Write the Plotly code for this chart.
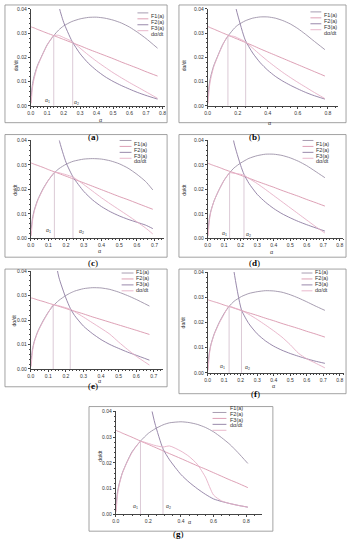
import plotly.graph_objects as go

# ---------------- data ----------------
N = None
# Panel (a)
ALPHA_A = [0.003, 0.01, 0.02, 0.04, 0.07, 0.1, 0.14, 0.17, 0.2, 0.25, 0.3, 0.35, 0.4, 0.45, 0.5, 0.55, 0.6, 0.65, 0.7, 0.77]
F1_A = [0.004, 0.0085, 0.012, 0.0165, 0.021, 0.0252, 0.0290, 0.0313, 0.0330, 0.0348, 0.0359, 0.0365, 0.0366, 0.0362, 0.0354, 0.0342, 0.0325, 0.0303, 0.0278, 0.0238]
F2_A = [0.0326, 0.0324, 0.0322, 0.0316, 0.0308, 0.0300, 0.0290, 0.0282, 0.0274, 0.0261, 0.0248, 0.0234, 0.0221, 0.0208, 0.0195, 0.0181, 0.0168, 0.0155, 0.0141, 0.0123]
F3_A = [N, N, N, N, N, N, 0.055, 0.0415, 0.0345, 0.0268, 0.0215, 0.0176, 0.0146, 0.0121, 0.0101, 0.0084, 0.0069, 0.0055, 0.0043, 0.0028]
DADT_A = [0.001, 0.007, 0.011, 0.016, 0.0208, 0.025, 0.0290, 0.0291, 0.0282, 0.0266, 0.0238, 0.0210, 0.0184, 0.0160, 0.0137, 0.0116, 0.0096, 0.0077, 0.0058, 0.0031]
# Panel (b)
ALPHA_B = [0.003, 0.01, 0.02, 0.04, 0.07, 0.1, 0.135, 0.18, 0.2, 0.25, 0.3, 0.35, 0.4, 0.45, 0.5, 0.55, 0.6, 0.65, 0.7, 0.78]
F1_B = [0.004, 0.0085, 0.012, 0.0165, 0.021, 0.0253, 0.0288, 0.0322, 0.0333, 0.0351, 0.0362, 0.0367, 0.0367, 0.0362, 0.0352, 0.0338, 0.0319, 0.0296, 0.0271, 0.0232]
F2_B = [0.0327, 0.0325, 0.0322, 0.0317, 0.0309, 0.0301, 0.0292, 0.0280, 0.0275, 0.0262, 0.0249, 0.0235, 0.0222, 0.0209, 0.0196, 0.0183, 0.0170, 0.0157, 0.0144, 0.0123]
F3_B = [N, N, N, N, N, N, 0.060, 0.0425, 0.0375, 0.0272, 0.0218, 0.0178, 0.0147, 0.0122, 0.0102, 0.0085, 0.0070, 0.0056, 0.0044, 0.0028]
DADT_B = [0.001, 0.007, 0.011, 0.016, 0.0208, 0.025, 0.0288, 0.0286, 0.0280, 0.0265, 0.0238, 0.0211, 0.0185, 0.0161, 0.0138, 0.0117, 0.0097, 0.0078, 0.0059, 0.0030]
# Panel (c)
ALPHA_C = [0.003, 0.01, 0.02, 0.04, 0.07, 0.1, 0.134, 0.16, 0.2, 0.24, 0.3, 0.35, 0.4, 0.45, 0.5, 0.55, 0.6, 0.65, 0.69]
F1_C = [0.004, 0.0082, 0.0115, 0.0158, 0.0203, 0.0238, 0.0268, 0.0285, 0.0303, 0.0315, 0.0324, 0.0326, 0.0324, 0.0317, 0.0305, 0.0287, 0.0262, 0.0232, 0.0198]
F2_C = [0.0308, 0.0306, 0.0303, 0.0298, 0.0290, 0.0281, 0.0272, 0.0265, 0.0254, 0.0243, 0.0227, 0.0213, 0.0199, 0.0185, 0.0171, 0.0158, 0.0144, 0.0130, 0.0119]
F3_C = [N, N, N, N, N, N, 0.052, 0.0405, 0.0310, 0.0250, 0.0192, 0.0157, 0.0130, 0.0109, 0.0092, 0.0078, 0.0066, 0.0054, 0.0040]
DADT_C = [0.001, 0.007, 0.011, 0.0155, 0.020, 0.0237, 0.0270, 0.0268, 0.0260, 0.0250, 0.0220, 0.0193, 0.0166, 0.0141, 0.0117, 0.0093, 0.0068, 0.0042, 0.0018]
# Panel (d)
ALPHA_D = [0.003, 0.01, 0.02, 0.04, 0.07, 0.1, 0.133, 0.16, 0.2, 0.22, 0.25, 0.3, 0.35, 0.4, 0.45, 0.5, 0.55, 0.6, 0.65, 0.71]
F1_D = [0.004, 0.008, 0.0113, 0.0155, 0.0200, 0.0238, 0.0268, 0.0288, 0.0308, 0.0316, 0.0327, 0.0338, 0.0344, 0.0344, 0.0339, 0.0329, 0.0315, 0.0297, 0.0275, 0.0248]
F2_D = [0.0307, 0.0305, 0.0302, 0.0297, 0.0290, 0.0282, 0.0274, 0.0268, 0.0258, 0.0253, 0.0246, 0.0233, 0.0221, 0.0209, 0.0196, 0.0184, 0.0172, 0.0159, 0.0147, 0.0132]
F3_D = [N, N, N, N, N, N, 0.050, 0.0390, 0.0298, 0.0262, 0.0225, 0.0180, 0.0148, 0.0122, 0.0101, 0.0084, 0.0069, 0.0056, 0.0044, 0.0030]
DADT_D = [0.001, 0.007, 0.011, 0.0155, 0.020, 0.0237, 0.0268, 0.0266, 0.0262, 0.0258, 0.0245, 0.0224, 0.0200, 0.0175, 0.0150, 0.0125, 0.0100, 0.0075, 0.0050, 0.0022]
# Panel (e)
ALPHA_E = [0.003, 0.01, 0.02, 0.04, 0.07, 0.1, 0.128, 0.16, 0.2, 0.225, 0.25, 0.3, 0.35, 0.4, 0.45, 0.5, 0.55, 0.6, 0.675]
F1_E = [0.004, 0.008, 0.0112, 0.0153, 0.0196, 0.0232, 0.0258, 0.0280, 0.0300, 0.0310, 0.0318, 0.0328, 0.0332, 0.0331, 0.0325, 0.0314, 0.0300, 0.0284, 0.0257]
F2_E = [0.0290, 0.0289, 0.0287, 0.0282, 0.0276, 0.0269, 0.0263, 0.0256, 0.0247, 0.0241, 0.0236, 0.0225, 0.0213, 0.0202, 0.0191, 0.0180, 0.0169, 0.0158, 0.0141]
F3_E = [N, N, N, N, N, N, 0.050, 0.0375, 0.0290, 0.0248, 0.0218, 0.0175, 0.0145, 0.0120, 0.0100, 0.0084, 0.0069, 0.0056, 0.0036]
DADT_E = [0.001, 0.007, 0.0108, 0.015, 0.0193, 0.0230, 0.0262, 0.0258, 0.0250, 0.0244, 0.0234, 0.0212, 0.0189, 0.0166, 0.0142, 0.0110, 0.0080, 0.0052, 0.0016]
# Panel (f)
ALPHA_F = [0.003, 0.01, 0.02, 0.04, 0.07, 0.1, 0.13, 0.16, 0.205, 0.25, 0.3, 0.35, 0.4, 0.45, 0.5, 0.55, 0.6, 0.65, 0.71]
F1_F = [0.004, 0.008, 0.0113, 0.0155, 0.0200, 0.0236, 0.0264, 0.0284, 0.0303, 0.0315, 0.0322, 0.0326, 0.0325, 0.0320, 0.0310, 0.0297, 0.0282, 0.0266, 0.0248]
F2_F = [0.0290, 0.0288, 0.0286, 0.0282, 0.0276, 0.0269, 0.0263, 0.0257, 0.0247, 0.0238, 0.0228, 0.0217, 0.0207, 0.0196, 0.0186, 0.0176, 0.0165, 0.0155, 0.0142]
F3_F = [N, N, N, N, N, N, 0.056, 0.0400, 0.0250, 0.0195, 0.0155, 0.0127, 0.0106, 0.0090, 0.0077, 0.0066, 0.0056, 0.0047, 0.0038]
DADT_F = [0.001, 0.007, 0.011, 0.0153, 0.0197, 0.0233, 0.0265, 0.0258, 0.0248, 0.0232, 0.0212, 0.0190, 0.0167, 0.0142, 0.0112, 0.0078, 0.0056, 0.0040, 0.0020]
# Panel (g)
ALPHA_G = [0.003, 0.01, 0.02, 0.04, 0.07, 0.1, 0.152, 0.2, 0.24, 0.29, 0.33, 0.4, 0.45, 0.5, 0.55, 0.6, 0.65, 0.7, 0.75, 0.81]
F1_G = [0.004, 0.0083, 0.0115, 0.016, 0.0205, 0.0243, 0.0285, 0.0315, 0.0332, 0.0348, 0.0356, 0.0360, 0.0357, 0.0350, 0.0338, 0.0321, 0.0298, 0.0272, 0.0240, 0.0198]
F2_G = [0.0327, 0.0324, 0.0322, 0.0316, 0.0308, 0.0300, 0.0285, 0.0272, 0.0261, 0.0247, 0.0236, 0.0217, 0.0203, 0.0189, 0.0176, 0.0162, 0.0148, 0.0134, 0.0121, 0.0104]
F3_G = [N, N, N, N, N, N, 0.068, 0.0470, 0.0355, 0.0255, 0.0212, 0.0155, 0.0125, 0.0100, 0.0078, 0.0060, 0.0050, 0.0042, 0.0035, 0.0028]
DADT_G = [0.001, 0.007, 0.011, 0.0158, 0.0203, 0.0240, 0.0283, 0.0276, 0.0268, 0.0262, 0.0266, 0.0246, 0.0225, 0.0195, 0.0145, 0.0075, 0.0052, 0.0042, 0.0035, 0.0028]

# transition points alpha1 / alpha2 and the dα/dt value there
ALPHA1 = [0.14, 0.135, 0.134, 0.133, 0.128, 0.13, 0.152]
ALPHA2 = [0.255, 0.253, 0.239, 0.22, 0.225, 0.205, 0.29]
H1 = [0.0290, 0.0288, 0.0270, 0.0268, 0.0262, 0.0265, 0.0283]
H2 = [0.0266, 0.0265, 0.0251, 0.0258, 0.0244, 0.0248, 0.0262]
# label anchor points (alpha, value); None = no label in that panel
LBL1 = [(0.10, 0.0022), None, (0.103, 0.0031), (0.104, 0.0019), None, (0.09, 0.0025), (0.122, 0.0031)]
LBL2 = [(0.276, 0.0015), None, (0.289, 0.0027), (0.249, 0.0016), None, (0.24, 0.0023), (0.325, 0.0029)]

PANEL_LETTERS = ["a", "b", "c", "d", "e", "f", "g"]
X_MAX = [0.816, 0.868, 0.754, 0.82, 0.753, 0.826, 0.897]
X_DTICK = [0.1, 0.2, 0.1, 0.1, 0.1, 0.1, 0.2]
SERIES_NAMES = ["F1(a)", "F2(a)", "F3(a)", "dα/dt"]

DATA = [
    (ALPHA_A, F1_A, F2_A, F3_A, DADT_A),
    (ALPHA_B, F1_B, F2_B, F3_B, DADT_B),
    (ALPHA_C, F1_C, F2_C, F3_C, DADT_C),
    (ALPHA_D, F1_D, F2_D, F3_D, DADT_D),
    (ALPHA_E, F1_E, F2_E, F3_E, DADT_E),
    (ALPHA_F, F1_F, F2_F, F3_F, DADT_F),
    (ALPHA_G, F1_G, F2_G, F3_G, DADT_G),
]

# ---------------- layout geometry (pixels) ----------------
W, H = 350, 550
# plot area: x0, x1, y_top(0.04), y_bottom(0.00)
AREA = [(28, 164, 6, 104), (207, 339, 6, 104),
        (28, 163, 139, 238), (207, 344, 139, 238),
        (28, 162, 271, 370), (207, 345, 272, 374),
        (114, 262, 413, 517)]
BOX = [(2, 2, 166, 121), (178, 2, 347, 121),
       (2, 133, 166, 257), (178, 133, 347, 257),
       (2, 269, 166, 388), (178, 269, 347, 395),
       (87, 408, 273, 534)]
CAPTION = [(84, 128), (262, 128), (84, 263), (262, 263), (84, 394), (262, 402), (178, 544)]
YTITLE = [(8, 55), (183, 55), (7, 189), (183, 189), (7, 321), (183, 323), (93, 466)]
XTITLE = [(96, 114), (273, 117), (95, 251), (275, 252), (95, 386), (277, 391), (189, 529)]
# legend: line x0, line x1, text x, first row y
LEG = [(136, 147, 149, 10), (311, 322, 324, 9), (118, 130, 132, 139), (303, 314, 316, 139),
       (120, 132, 134, 273), (302, 313, 315, 273), (212, 226, 229, 414)]
LEG_STEP = 6

COLORS = ["#9d92a8", "#d995ad", "#8d7ca2", "#e6b0c6"]
VCOLOR = "#d2bccb"
AXCOL = "#444444"
FONT = "Liberation Sans"


def px(x):
    return x / W


def py(y):
    return 1 - y / H


fig = go.Figure()
shapes = []
annots = []
layout = {}

for i, (alpha, f1, f2, f3, dadt) in enumerate(DATA):
    k = "" if i == 0 else str(i + 1)
    xa, ya = "x" + k, "y" + k
    series = [f1, f2, f3, dadt]
    for s, (vals, name) in enumerate(zip(series, SERIES_NAMES)):
        fig.add_trace(go.Scatter(
            x=alpha, y=vals, mode="lines", name=name, showlegend=False,
            xaxis=xa, yaxis=ya,
            line=dict(color=COLORS[s], width=0.9, shape="spline", smoothing=0.6)))
    # vertical transition lines
    for a, h in ((ALPHA1[i], H1[i]), (ALPHA2[i], H2[i])):
        fig.add_trace(go.Scatter(x=[a, a], y=[0, h], mode="lines", showlegend=False,
                                 xaxis=xa, yaxis=ya,
                                 line=dict(color=VCOLOR, width=0.8)))
    x0, x1, yt, yb = AREA[i]
    common = dict(showline=True, linecolor=AXCOL, linewidth=0.8, ticks="outside",
                  ticklen=2, tickwidth=0.6, tickcolor=AXCOL, showgrid=False, zeroline=False,
                  tickfont=dict(family=FONT, size=5, color="#333333"),
                  minor=dict(ticks="outside", ticklen=1, tickwidth=0.5, tickcolor=AXCOL))
    layout["xaxis" + k] = dict(common, domain=[px(x0), px(x1)], range=[0, X_MAX[i]],
                               anchor=ya, dtick=X_DTICK[i], tick0=0, tickformat=".1f")
    layout["yaxis" + k] = dict(common, domain=[py(yb), py(yt)], range=[0, 0.04],
                               anchor=xa, dtick=0.01, tick0=0, tickformat=".2f")

    # alpha labels
    for lbl, txt in ((LBL1[i], "α<sub>1</sub>"), (LBL2[i], "α<sub>2</sub>")):
        if lbl is not None:
            annots.append(dict(x=lbl[0], y=lbl[1], xref=xa, yref=ya, text=txt,
                               showarrow=False, font=dict(family=FONT, size=5, color="#333333")))

    # frame
    bx0, by0, bx1, by1 = BOX[i]
    shapes.append(dict(type="rect", xref="paper", yref="paper",
                       x0=px(bx0), x1=px(bx1), y0=py(by1), y1=py(by0),
                       line=dict(color="#8c8c8c", width=0.8)))
    # caption
    cx, cy = CAPTION[i]
    annots.append(dict(x=px(cx), y=py(cy), xref="paper", yref="paper",
                       text="(<b>%s</b>)" % PANEL_LETTERS[i], showarrow=False,
                       font=dict(family="Liberation Serif", size=9, color="#000000")))
    # axis titles
    tx, ty = YTITLE[i]
    annots.append(dict(x=px(tx), y=py(ty), xref="paper", yref="paper", text="dα/dt",
                       textangle=-90, showarrow=False,
                       font=dict(family=FONT, size=5, color="#333333")))
    tx, ty = XTITLE[i]
    annots.append(dict(x=px(tx), y=py(ty), xref="paper", yref="paper", text="α",
                       showarrow=False, borderpad=0,
                       font=dict(family=FONT, size=5.5, color="#333333")))
    # legend
    lx0, lx1, ltx, ly = LEG[i]
    for s, name in enumerate(SERIES_NAMES):
        yy = ly + s * LEG_STEP
        shapes.append(dict(type="line", xref="paper", yref="paper",
                           x0=px(lx0), x1=px(lx1), y0=py(yy), y1=py(yy),
                           line=dict(color=COLORS[s], width=0.9)))
        annots.append(dict(x=px(ltx), y=py(yy - 0.8), xref="paper", yref="paper", text=name,
                           xanchor="left", showarrow=False, borderpad=0,
                           font=dict(family=FONT, size=5.5, color="#333333")))

fig.update_layout(
    width=W, height=H, autosize=False,
    margin=dict(l=0, r=0, t=0, b=0),
    paper_bgcolor="white", plot_bgcolor="white",
    shapes=shapes, annotations=annots, showlegend=False,
    **layout)

fig.write_html("out.html", config={"displayModeBar": False})

# remove the browser's default page margin so the figure sits at (0, 0)
with open("out.html", encoding="utf-8") as fh:
    html = fh.read()
html = html.replace("<body>", '<body style="margin:0;padding:0;overflow:hidden">', 1)
with open("out.html", "w", encoding="utf-8") as fh:
    fh.write(html)
